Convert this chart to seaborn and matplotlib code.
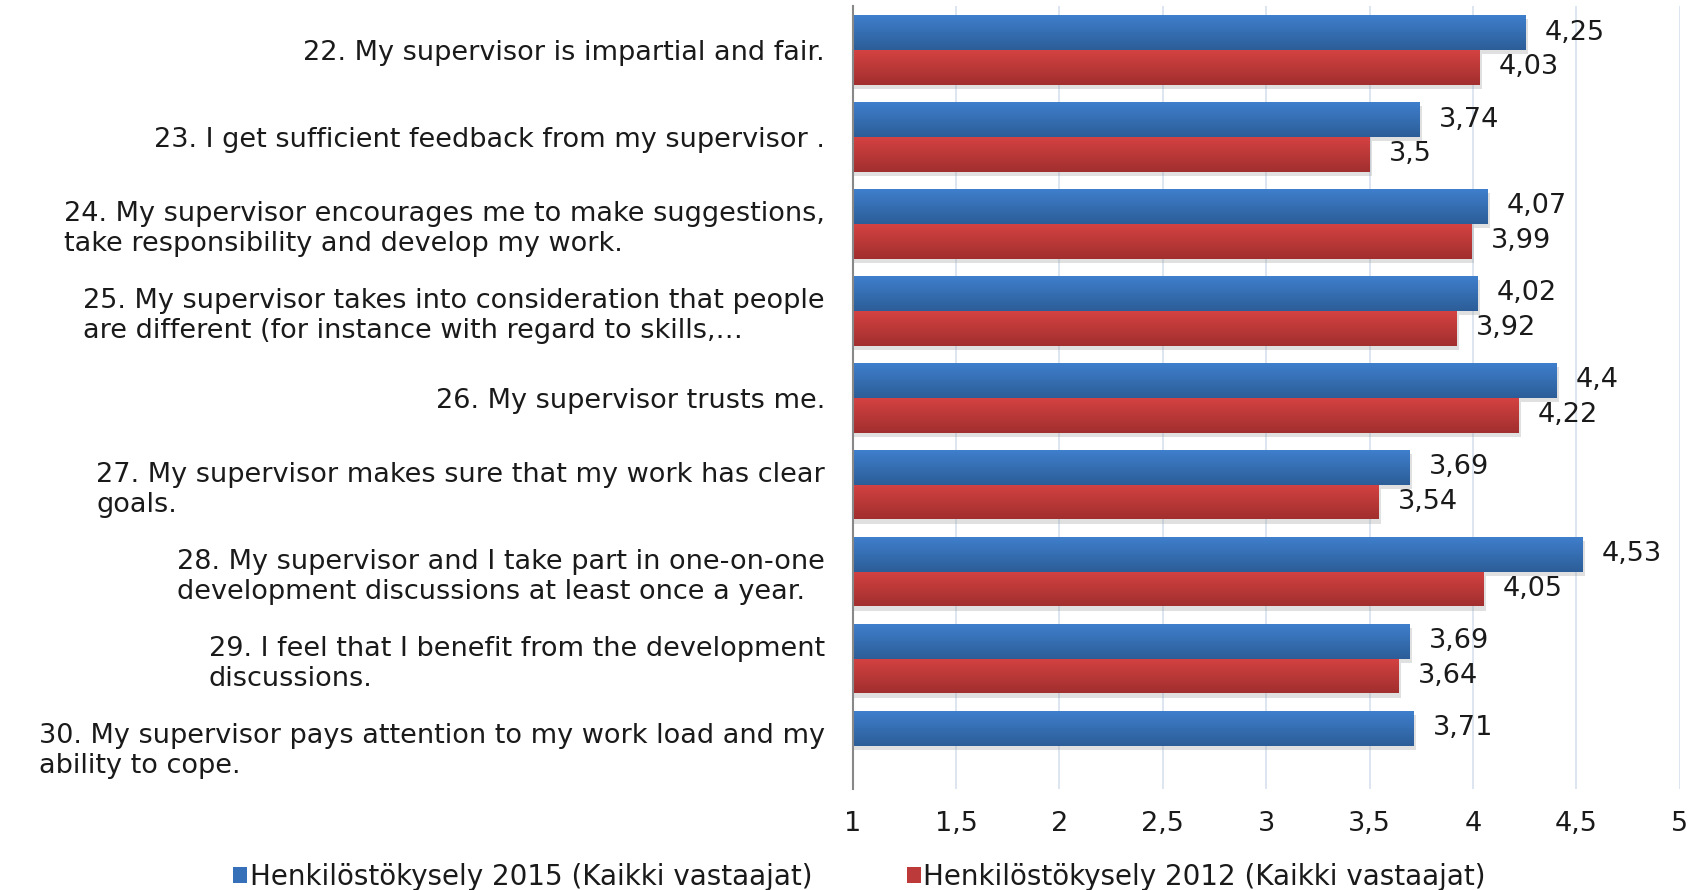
import numpy as np
import pandas as pd
import matplotlib
matplotlib.use("Agg")
import matplotlib.pyplot as plt
import matplotlib.patheffects as pe
from matplotlib.colors import LinearSegmentedColormap
from matplotlib.patches import Patch
import seaborn as sns

questions = [
    "22. My supervisor is impartial and fair.",
    "23. I get sufficient feedback from my supervisor .",
    "24. My supervisor encourages me to make suggestions,\ntake responsibility and develop my work.",
    "25. My supervisor takes into consideration that people\nare different (for instance with regard to skills,\u2026",
    "26. My supervisor trusts me.",
    "27. My supervisor makes sure that my work has clear\ngoals.",
    "28. My supervisor and I take part in one-on-one\ndevelopment discussions at least once a year.",
    "29. I feel that I benefit from the development\ndiscussions.",
    "30. My supervisor pays attention to my work load and my\nability to cope.",
]
series_names = [
    "Henkilöstökysely 2015 (Kaikki vastaajat)",
    "Henkilöstökysely 2012 (Kaikki vastaajat)",
]
values_2015 = [4.25, 3.74, 4.07, 4.02, 4.40, 3.69, 4.53, 3.69, 3.71]
values_2012 = [4.03, 3.50, 3.99, 3.92, 4.22, 3.54, 4.05, 3.64, np.nan]
x_ticks = [1, 1.5, 2, 2.5, 3, 3.5, 4, 4.5, 5]
x_min, x_max = 1, 5

# gradient colours (top, bottom) for each series
grad_colors = [("#3f7fcc", "#2c5d98"), ("#d44242", "#a12f2e")]
mid_colors = ["#3570b8", "#bd3a3a"]

df = pd.concat([
    pd.DataFrame({"question": questions, "score": values_2015, "survey": series_names[0]}),
    pd.DataFrame({"question": questions, "score": values_2012, "survey": series_names[1]}),
]).dropna()

sns.set_style("white")
plt.rcParams["font.family"] = ["DejaVu Sans"]
FS = 19.5
TXT = "#1a1a1a"

fig = plt.figure(figsize=(17.02, 8.90), dpi=100)
ax = fig.add_axes([0.501, 0.1135, 0.486, 0.8792])

sns.barplot(data=df, y="question", x="score", hue="survey", order=questions,
            hue_order=series_names, palette=mid_colors, orient="h",
            width=0.8, ax=ax, legend=False, saturation=1)

ax.set_xlim(x_min, x_max)
ax.set_ylim(8.5, -0.5)

def fmt(v):
    return f"{v:g}".replace(".", ",")

grad = np.linspace(0, 1, 64).reshape(-1, 1)
for ci, cont in enumerate(ax.containers):
    top, bot = grad_colors[ci]
    cmap = LinearSegmentedColormap.from_list(f"g{ci}", [top, bot])
    for bar in cont:
        bar.set_edgecolor("none")
        bar.set_path_effects([
            pe.SimplePatchShadow(offset=(2, -3), shadow_rgbFace="#999999", alpha=0.3),
            pe.Normal(),
        ])
        x0, y0 = bar.get_x(), bar.get_y()
        w, h = bar.get_width(), bar.get_height()
        left = max(x0, x_min)
        im = ax.imshow(grad, cmap=cmap, aspect="auto",
                       extent=[left, x0 + w, y0 + h, y0],
                       zorder=bar.get_zorder() + 0.1, interpolation="bicubic")
        im.set_clip_path(bar)
    labels = [fmt(v) for v in cont.datavalues]
    ax.bar_label(cont, labels=labels, padding=14, fontsize=FS, color=TXT)

ax.set_xlim(x_min, x_max)
ax.set_ylim(8.5, -0.5)

ax.set_xticks(x_ticks)
ax.set_xticklabels([fmt(t) for t in x_ticks], fontsize=FS, color=TXT)
ax.tick_params(axis="x", length=0, pad=16)
ax.tick_params(axis="y", length=0, pad=20)
for lab in ax.get_yticklabels():
    lab.set_fontsize(FS)
    lab.set_color(TXT)
    lab.set_multialignment("left")
    lab.set_linespacing(1.2)

ax.set_xlabel("")
ax.set_ylabel("")
ax.grid(axis="x", color="#d6e0ee", linewidth=1.2)
ax.set_axisbelow(True)
for side in ["top", "right", "bottom"]:
    ax.spines[side].set_visible(False)
ax.spines["left"].set_color("#888888")
ax.spines["left"].set_linewidth(1.5)

handles = [Patch(facecolor=mid_colors[i], edgecolor="none") for i in range(2)]
fig.legend(handles, series_names, loc="center", bbox_to_anchor=(0.505, 0.015),
           ncol=2, frameon=False, fontsize=FS + 0.5, handlelength=0.5, handleheight=0.5,
           handletextpad=0.1, columnspacing=3.4, labelcolor=TXT)

fig.savefig("out.png", dpi=100)
